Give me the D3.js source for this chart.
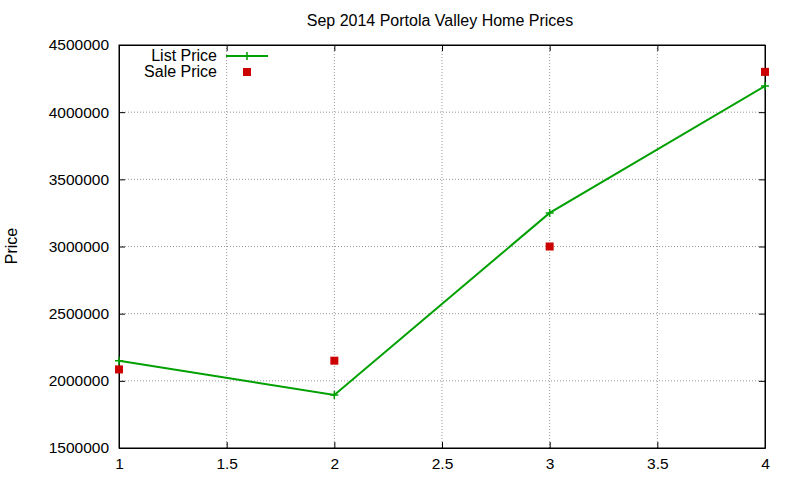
<!DOCTYPE html>
<html><head><meta charset="utf-8">
<script src="https://cdn.jsdelivr.net/npm/d3@7"></script>
<style>body{margin:0;background:#fff}</style>
</head><body>
<script>
const bedrooms = [1, 2, 3, 4];
const listPrice = [2150000, 1895000, 3250000, 4195000];
const salePrice = [2085000, 2150000, 3000000, 4300000];
const xTicks = [1, 1.5, 2, 2.5, 3, 3.5, 4];
const yTicks = [1500000, 2000000, 2500000, 3000000, 3500000, 4000000, 4500000];

const width = 800, height = 480;
const m = {left: 119, right: 35, top: 45, bottom: 32};

const svg = d3.select("body").append("svg")
  .attr("width", width).attr("height", height)
  .style("font-family", "'Liberation Sans', Arial, sans-serif");

const x = d3.scaleLinear().domain([1, 4]).range([m.left, width - m.right]);
const y = d3.scaleLinear().domain([1500000, 4500000]).range([height - m.bottom, m.top]);

// grid
svg.append("g").selectAll("line").data(xTicks.slice(1, -1)).join("line")
  .attr("x1", d => x(d)).attr("x2", d => x(d))
  .attr("y1", y.range()[0]).attr("y2", y.range()[1])
  .attr("stroke", "#999").attr("stroke-dasharray", "1,2");
svg.append("g").selectAll("line").data(yTicks.slice(1, -1)).join("line")
  .attr("x1", x.range()[0]).attr("x2", x.range()[1])
  .attr("y1", d => y(d)).attr("y2", d => y(d))
  .attr("stroke", "#999").attr("stroke-dasharray", "1,2");

// axes
const xAxis = svg.append("g").attr("transform", `translate(0,${height - m.bottom})`)
  .call(d3.axisBottom(x).tickValues(xTicks).tickSize(-6).tickSizeOuter(0).tickPadding(10).tickFormat(d3.format("")));
const xTop = svg.append("g").attr("transform", `translate(0,${m.top})`)
  .call(d3.axisTop(x).tickValues(xTicks).tickSize(-6).tickSizeOuter(0).tickFormat(""));
const yAxis = svg.append("g").attr("transform", `translate(${m.left},0)`)
  .call(d3.axisLeft(y).tickValues(yTicks).tickSize(-6).tickSizeOuter(0).tickPadding(10).tickFormat(d3.format("d")));
const yRight = svg.append("g").attr("transform", `translate(${width - m.right},0)`)
  .call(d3.axisRight(y).tickValues(yTicks).tickSize(-6).tickSizeOuter(0).tickFormat(""));
[xAxis, xTop, yAxis, yRight].forEach(a => {
  a.selectAll("text").attr("font-size", 15.5).attr("fill", "#000").style("font-family", "'Liberation Sans', Arial, sans-serif");
  a.selectAll("line,path").attr("stroke", "#000");
});
svg.append("rect").attr("x", m.left).attr("y", m.top)
  .attr("width", width - m.left - m.right).attr("height", height - m.top - m.bottom)
  .attr("fill", "none").attr("stroke", "#000");

// title and label
svg.append("text").attr("x", 440).attr("y", 26).attr("text-anchor", "middle")
  .attr("font-size", 16).text("Sep 2014 Portola Valley Home Prices");
svg.append("text").attr("transform", "translate(17,246) rotate(-90)")
  .attr("text-anchor", "middle").attr("font-size", 16).text("Price");

const green = "#00a000", red = "#cc0000";
const line = d3.line().x((d, i) => x(bedrooms[i])).y(d => y(d));
svg.append("path").datum(listPrice).attr("d", line)
  .attr("fill", "none").attr("stroke", green).attr("stroke-width", 2);
function cross(g, cx, cy) {
  g.append("path").attr("d", `M${cx - 4},${cy}H${cx + 4}M${cx},${cy - 4}V${cy + 4}`)
    .attr("stroke", green).attr("stroke-width", 1.5);
}
listPrice.forEach((v, i) => cross(svg, x(bedrooms[i]), y(v)));
svg.append("g").selectAll("rect").data(salePrice).join("rect")
  .attr("x", (d, i) => x(bedrooms[i]) - 4).attr("y", d => y(d) - 4)
  .attr("width", 8).attr("height", 8).attr("fill", red);

// legend
svg.append("text").attr("x", 217).attr("y", 61).attr("text-anchor", "end").attr("font-size", 16).text("List Price");
svg.append("line").attr("x1", 226).attr("x2", 268).attr("y1", 56).attr("y2", 56).attr("stroke", green).attr("stroke-width", 2);
cross(svg, 247, 56);
svg.append("text").attr("x", 217).attr("y", 77).attr("text-anchor", "end").attr("font-size", 16).text("Sale Price");
svg.append("rect").attr("x", 243).attr("y", 68).attr("width", 8).attr("height", 8).attr("fill", red);
</script>
</body></html>
